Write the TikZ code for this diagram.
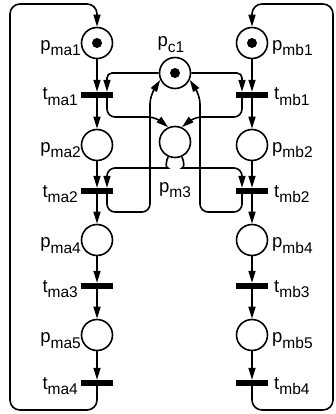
\documentclass[tikz,border=0pt]{standalone}
\usepackage{fontspec}
\setmainfont{Liberation Sans}
\usetikzlibrary{arrows.meta}
\newcommand\plab[2]{#1\raisebox{-5.5pt}{\fontsize{15.5}{15.5}\selectfont #2}}
\begin{document}
\begin{tikzpicture}[x=1pt,y=-1pt,
  place/.style={circle,draw,line width=1.6pt,minimum size=31pt,inner sep=0pt},
  trans/.style={rectangle,fill,minimum width=32pt,minimum height=6pt,inner sep=0pt},
  tok/.style={circle,fill,minimum size=10pt,inner sep=0pt},
  arc/.style={line width=1.6pt,-{Triangle[length=12pt,width=7pt]},rounded corners=8pt},
  lab/.style={font=\fontsize{18.5}{18.5}\selectfont,inner sep=0pt}]
\useasboundingbox (0,0) rectangle (335,414);
% left column
\node[place] (pma1) at (97,43) {};
\node[trans] (tma1) at (97,95) {};
\node[place] (pma2) at (97,145) {};
\node[trans] (tma2) at (97,191) {};
\node[place] (pma4) at (97,240) {};
\node[trans] (tma3) at (97,286) {};
\node[place] (pma5) at (97,335) {};
\node[trans] (tma4) at (97,383) {};
% right column
\node[place] (pmb1) at (252,43) {};
\node[trans] (tmb1) at (252,95) {};
\node[place] (pmb2) at (252,145) {};
\node[trans] (tmb2) at (252,191) {};
\node[place] (pmb4) at (252,240) {};
\node[trans] (tmb3) at (252,286) {};
\node[place] (pmb5) at (252,335) {};
\node[trans] (tmb4) at (252,383) {};
% shared
\node[place] (pc1) at (175,73) {};
\node[place] (pm3) at (175,142) {};
% tokens
\node[tok] (k1) at (pma1) {};
\node[tok] (k2) at (pmb1) {};
\node[tok] (k3) at (pc1) {};
% labels
\node[lab,anchor=base east] (lpma1) at (81,50.5) {\plab{p}{ma1}};
\node[lab,anchor=base east] (ltma1) at (78,100) {\plab{t}{ma1}};
\node[lab,anchor=base east] (lpma2) at (81,152.5) {\plab{p}{ma2}};
\node[lab,anchor=base east] (ltma2) at (78,197) {\plab{t}{ma2}};
\node[lab,anchor=base east] (lpma4) at (81,247.5) {\plab{p}{ma4}};
\node[lab,anchor=base east] (ltma3) at (78,292) {\plab{t}{ma3}};
\node[lab,anchor=base east] (lpma5) at (81,342.5) {\plab{p}{ma5}};
\node[lab,anchor=base east] (ltma4) at (78,389) {\plab{t}{ma4}};
\node[lab,anchor=base west] (lpmb1) at (272,50.5) {\plab{p}{mb1}};
\node[lab,anchor=base west] (ltmb1) at (274,100) {\plab{t}{mb1}};
\node[lab,anchor=base west] (lpmb2) at (272,152.5) {\plab{p}{mb2}};
\node[lab,anchor=base west] (ltmb2) at (274,197) {\plab{t}{mb2}};
\node[lab,anchor=base west] (lpmb4) at (272,247.5) {\plab{p}{mb4}};
\node[lab,anchor=base west] (ltmb3) at (274,292) {\plab{t}{mb3}};
\node[lab,anchor=base west] (lpmb5) at (272,342.5) {\plab{p}{mb5}};
\node[lab,anchor=base west] (ltmb4) at (274,389) {\plab{t}{mb4}};
\node[lab,anchor=base] (lpc1) at (171,47) {\plab{p}{c1}};
\node[lab,anchor=base] (lpm3) at (175,192) {\plab{p}{m3}};
% main column arcs
\foreach \a/\b in {pma1/tma1,tma1/pma2,pma2/tma2,tma2/pma4,pma4/tma3,tma3/pma5,pma5/tma4,
                   pmb1/tmb1,tmb1/pmb2,pmb2/tmb2,tmb2/pmb4,pmb4/tmb3,tmb3/pmb5,pmb5/tmb4}
  \draw[arc] (\a.south) -- (\b.north);
% loops
\draw[arc,rounded corners=10pt] (tma4.south) -- (97,410) -- (10,410) -- (10,4) -- (97,4) -- (pma1.north);
\draw[arc,rounded corners=10pt] (tmb4.south) -- (252,410) -- (333,410) -- (333,4) -- (252,4) -- (pmb1.north);
% mutex arcs left
\draw[arc,rounded corners=5pt] (pc1.west) -| ([xshift=10pt]tma1.north);
\draw[arc] ([xshift=10pt]tma1.south) |- (156,117) -- (pm3.115);
\draw[arc] (pm3.245) to[out=245,in=0] (160,168) -| ([xshift=10pt]tma2.north);
\draw[arc] ([xshift=10pt]tma2.south) |- (150,212) -- (150,96) -- (pc1.205);
% mutex arcs right
\draw[arc,rounded corners=5pt] (pc1.east) -| ([xshift=-10pt]tmb1.north);
\draw[arc] ([xshift=-10pt]tmb1.south) |- (194,117) -- (pm3.65);
\draw[arc] (pm3.295) to[out=295,in=180] (190,168) -| ([xshift=-10pt]tmb2.north);
\draw[arc] ([xshift=-10pt]tmb2.south) |- (200,212) -- (200,96) -- (pc1.335);
\end{tikzpicture}
\end{document}
